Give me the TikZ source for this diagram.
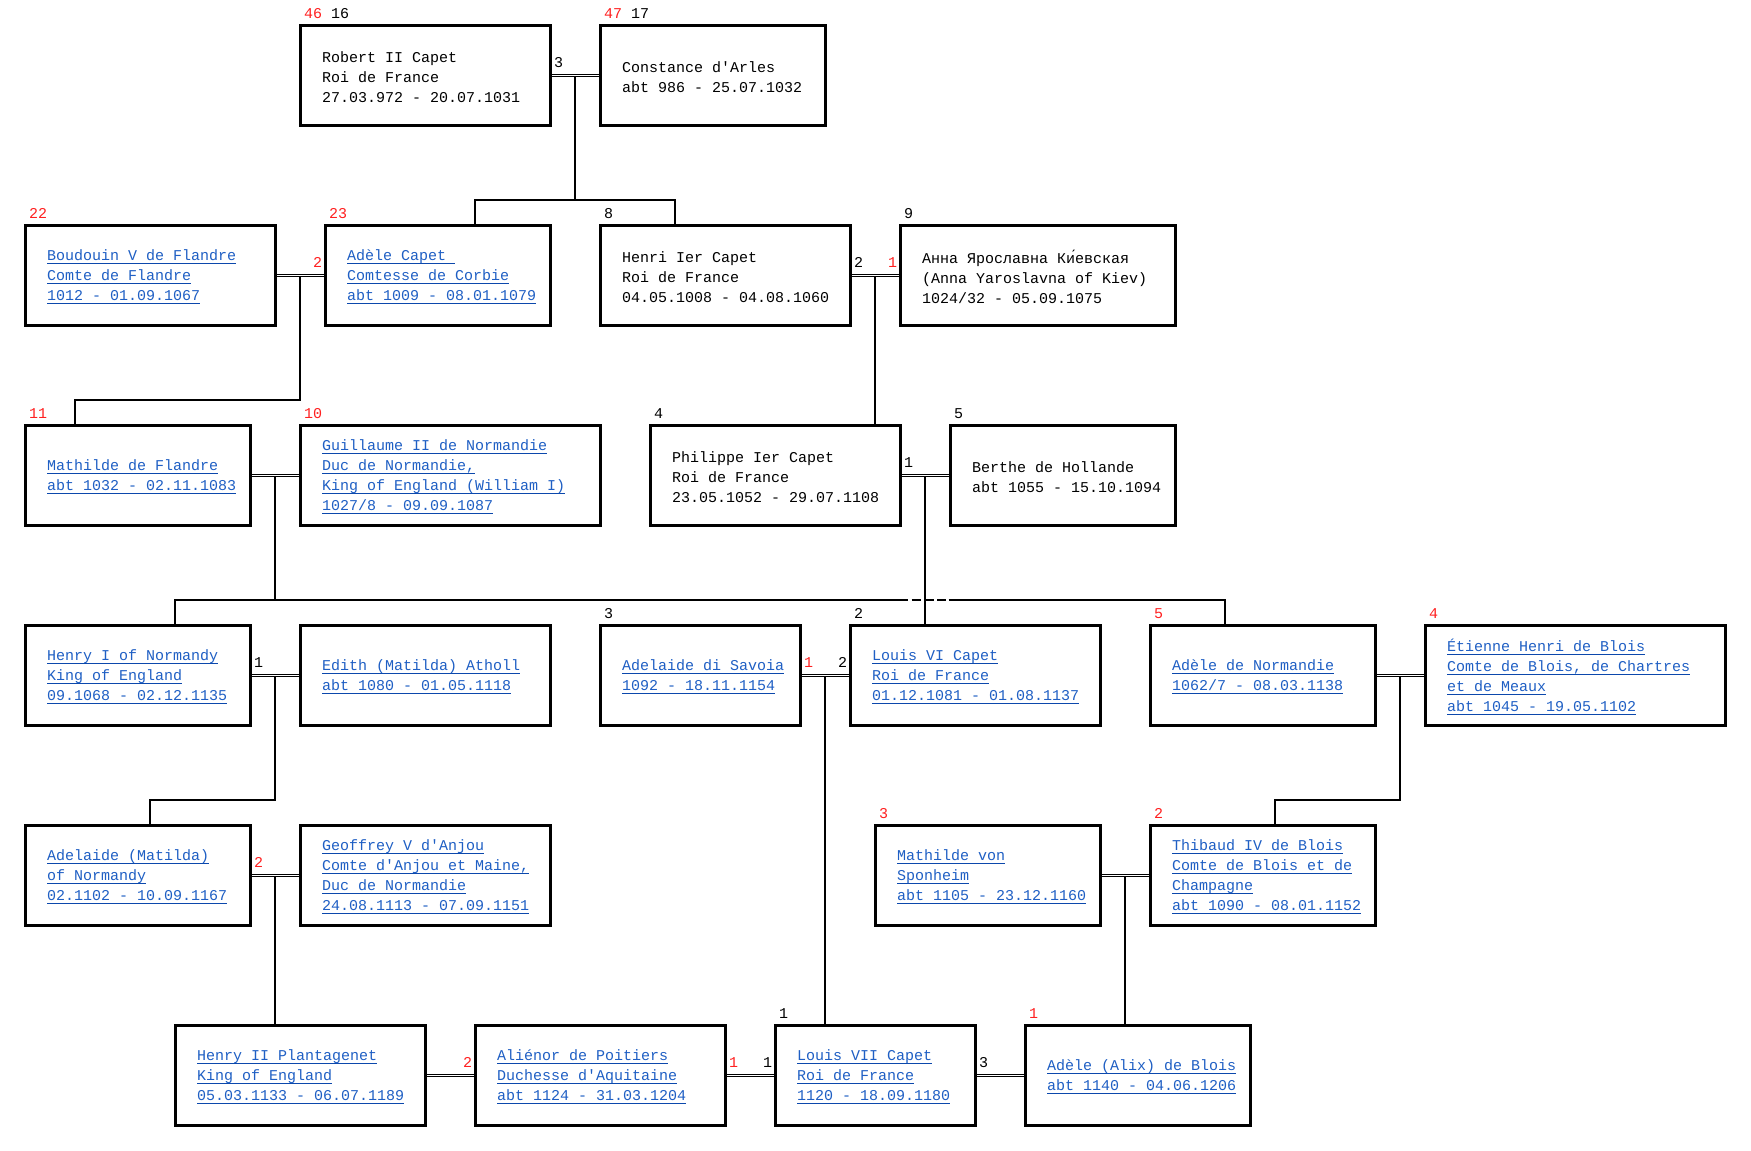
\documentclass[tikz,border=0pt]{standalone}
\usepackage{fontspec}
\setmonofont{Liberation Mono}
\usetikzlibrary{calc}
\definecolor{lkblue}{RGB}{31,95,196}
\definecolor{lkline}{RGB}{12,72,172}
\definecolor{numred}{RGB}{255,32,32}
\newsavebox{\lkbox}
\newcommand\lk[1]{\sbox{\lkbox}{#1}\rlap{\color{lkline}\rule[-3.2pt]{\wd\lkbox}{1.2pt}}\usebox{\lkbox}}
\pgfdeclarelayer{back}
\pgfdeclarelayer{bg}
\pgfsetlayers{back,bg,main}
\tikzset{
  pbox/.style={draw=black, line width=3pt, anchor=north west, minimum height=100pt, inner sep=0pt, outer sep=0pt},
  ptext/.style={anchor=west, xshift=22pt, yshift=-2pt, align=left, inner sep=0pt, outer sep=0pt, font=\ttfamily\fontsize{15}{20}\selectfont, text=black},
  plink/.style={ptext, text=lkblue},
  toplab/.style={anchor=base west, inner sep=0pt, outer sep=0pt, xshift=4pt, yshift=7pt, font=\ttfamily\fontsize{15}{20}\selectfont},
  mlabL/.style={anchor=base west, inner sep=0pt, outer sep=0pt, xshift=4pt, yshift=8pt, font=\ttfamily\fontsize{15}{20}\selectfont},
  mlabR/.style={anchor=base east, inner sep=0pt, outer sep=0pt, xshift=-3pt, yshift=8pt, font=\ttfamily\fontsize{15}{20}\selectfont},
  desc/.style={draw=black, line width=2pt},
  marr/.style={draw=black, line width=1pt, double=white, double distance=1pt},
}
\begin{document}
\begin{tikzpicture}[x=1pt,y=-1pt]
\useasboundingbox (0,0) rectangle (1751,1151);
\begin{pgfonlayer}{back}
\fill[white] (0,0) rectangle (1751,1151);
\end{pgfonlayer}

% ---------- boxes ----------
% row 1
\node[pbox, minimum width=250pt] (robert) at (300,25) {};
\node[pbox, minimum width=225pt] (constance) at (600,25) {};
% row 2
\node[pbox, minimum width=250pt] (boudouin) at (25,225) {};
\node[pbox, minimum width=225pt] (adeleC) at (325,225) {};
\node[pbox, minimum width=250pt] (henri) at (600,225) {};
\node[pbox, minimum width=275pt] (anna) at (900,225) {};
% row 3
\node[pbox, minimum width=225pt] (mathilde) at (25,425) {};
\node[pbox, minimum width=300pt] (guillaume) at (300,425) {};
\node[pbox, minimum width=250pt] (philippe) at (650,425) {};
\node[pbox, minimum width=225pt] (berthe) at (950,425) {};
% row 4
\node[pbox, minimum width=225pt] (henryI) at (25,625) {};
\node[pbox, minimum width=250pt] (edith) at (300,625) {};
\node[pbox, minimum width=200pt] (savoia) at (600,625) {};
\node[pbox, minimum width=250pt] (louisVI) at (850,625) {};
\node[pbox, minimum width=225pt] (adeleN) at (1150,625) {};
\node[pbox, minimum width=300pt] (etienne) at (1425,625) {};
% row 5
\node[pbox, minimum width=225pt] (adelaideM) at (25,825) {};
\node[pbox, minimum width=250pt] (geoffrey) at (300,825) {};
\node[pbox, minimum width=225pt] (sponheim) at (875,825) {};
\node[pbox, minimum width=225pt] (thibaud) at (1150,825) {};
% row 6
\node[pbox, minimum width=250pt] (henryII) at (175,1025) {};
\node[pbox, minimum width=250pt] (alienor) at (475,1025) {};
\node[pbox, minimum width=200pt] (louisVII) at (775,1025) {};
\node[pbox, minimum width=225pt] (alix) at (1025,1025) {};

% ---------- texts ----------
\node[ptext] (robertT) at (robert.west) {Robert II Capet\\Roi de France\\27.03.972 - 20.07.1031};
\node[ptext] (constanceT) at (constance.west) {Constance d'Arles\\abt 986 - 25.07.1032};
\node[plink] (boudouinT) at (boudouin.west) {\lk{Boudouin V de Flandre}\\\lk{Comte de Flandre}\\\lk{1012 - 01.09.1067}};
\node[plink] (adeleCT) at (adeleC.west) {\lk{Adèle Capet\ }\\\lk{Comtesse de Corbie}\\\lk{abt 1009 - 08.01.1079}};
\node[ptext] (henriT) at (henri.west) {Henri Ier Capet\\Roi de France\\04.05.1008 - 04.08.1060};
\node[ptext] (annaT) at (anna.west) {Анна Ярославна Ки́евская\\(Anna Yaroslavna of Kiev)\\1024/32 - 05.09.1075};
\node[plink] (mathildeT) at (mathilde.west) {\lk{Mathilde de Flandre}\\\lk{abt 1032 - 02.11.1083}};
\node[plink] (guillaumeT) at (guillaume.west) {\lk{Guillaume II de Normandie}\\\lk{Duc de Normandie,}\\\lk{King of England (William I)}\\\lk{1027/8 - 09.09.1087}};
\node[ptext] (philippeT) at (philippe.west) {Philippe Ier Capet\\Roi de France\\23.05.1052 - 29.07.1108};
\node[ptext] (bertheT) at (berthe.west) {Berthe de Hollande\\abt 1055 - 15.10.1094};
\node[plink] (henryIT) at (henryI.west) {\lk{Henry I of Normandy}\\\lk{King of England}\\\lk{09.1068 - 02.12.1135}};
\node[plink] (edithT) at (edith.west) {\lk{Edith (Matilda) Atholl}\\\lk{abt 1080 - 01.05.1118}};
\node[plink] (savoiaT) at (savoia.west) {\lk{Adelaide di Savoia}\\\lk{1092 - 18.11.1154}};
\node[plink] (louisVIT) at (louisVI.west) {\lk{Louis VI Capet}\\\lk{Roi de France}\\\lk{01.12.1081 - 01.08.1137}};
\node[plink] (adeleNT) at (adeleN.west) {\lk{Adèle de Normandie}\\\lk{1062/7 - 08.03.1138}};
\node[plink] (etienneT) at (etienne.west) {\lk{Étienne Henri de Blois}\\\lk{Comte de Blois, de Chartres}\\\lk{et de Meaux}\\\lk{abt 1045 - 19.05.1102}};
\node[plink] (adelaideMT) at (adelaideM.west) {\lk{Adelaide (Matilda)}\\\lk{of Normandy}\\\lk{02.1102 - 10.09.1167}};
\node[plink] (geoffreyT) at (geoffrey.west) {\lk{Geoffrey V d'Anjou}\\\lk{Comte d'Anjou et Maine,}\\\lk{Duc de Normandie}\\\lk{24.08.1113 - 07.09.1151}};
\node[plink] (sponheimT) at (sponheim.west) {\lk{Mathilde von}\\\lk{Sponheim}\\\lk{abt 1105 - 23.12.1160}};
\node[plink] (thibaudT) at (thibaud.west) {\lk{Thibaud IV de Blois}\\\lk{Comte de Blois et de}\\\lk{Champagne}\\\lk{abt 1090 - 08.01.1152}};
\node[plink] (henryIIT) at (henryII.west) {\lk{Henry II Plantagenet}\\\lk{King of England}\\\lk{05.03.1133 - 06.07.1189}};
\node[plink] (alienorT) at (alienor.west) {\lk{Aliénor de Poitiers}\\\lk{Duchesse d'Aquitaine}\\\lk{abt 1124 - 31.03.1204}};
\node[plink] (louisVIIT) at (louisVII.west) {\lk{Louis VII Capet}\\\lk{Roi de France}\\\lk{1120 - 18.09.1180}};
\node[plink] (alixT) at (alix.west) {\lk{Adèle (Alix) de Blois}\\\lk{abt 1140 - 04.06.1206}};

% ---------- numbers above boxes ----------
\node[toplab] (nRobert) at (robert.north west) {\textcolor{numred}{46} 16};
\node[toplab] (nConstance) at (constance.north west) {\textcolor{numred}{47} 17};
\node[toplab, text=numred] (nBoudouin) at (boudouin.north west) {22};
\node[toplab, text=numred] (nAdeleC) at (adeleC.north west) {23};
\node[toplab] (nHenri) at (henri.north west) {8};
\node[toplab] (nAnna) at (anna.north west) {9};
\node[toplab, text=numred] (nMathilde) at (mathilde.north west) {11};
\node[toplab, text=numred] (nGuillaume) at (guillaume.north west) {10};
\node[toplab] (nPhilippe) at (philippe.north west) {4};
\node[toplab] (nBerthe) at (berthe.north west) {5};
\node[toplab] (nSavoia) at (savoia.north west) {3};
\node[toplab] (nLouisVI) at (louisVI.north west) {2};
\node[toplab, text=numred] (nAdeleN) at (adeleN.north west) {5};
\node[toplab, text=numred] (nEtienne) at (etienne.north west) {4};
\node[toplab, text=numred] (nSponheim) at (sponheim.north west) {3};
\node[toplab, text=numred] (nThibaud) at (thibaud.north west) {2};
\node[toplab] (nLouisVII) at (louisVII.north west) {1};
\node[toplab, text=numred] (nAlix) at (alix.north west) {1};

% ---------- marriage numbers ----------
\node[mlabL] (lRC) at (robert.east) {3};
\node[mlabR, text=numred] (lBA) at (adeleC.west) {2};
\node[mlabL] (lHA1) at (henri.east) {2};
\node[mlabR, text=numred] (lHA2) at (anna.west) {1};
\node[mlabL] (lPB) at (philippe.east) {1};
\node[mlabL] (lHE) at (henryI.east) {1};
\node[mlabL, text=numred] (lSL1) at (savoia.east) {1};
\node[mlabR] (lSL2) at (louisVI.west) {2};
\node[mlabL, text=numred] (lAG) at (adelaideM.east) {2};
\node[mlabR, text=numred] (lHAl) at (alienor.west) {2};
\node[mlabL, text=numred] (lAL1) at (alienor.east) {1};
\node[mlabR] (lAL2) at (louisVII.west) {1};
\node[mlabL] (lLA) at (louisVII.east) {3};

% ---------- coordinates ----------
\coordinate (mRC) at ($(robert.east)!0.5!(constance.west)$);
\coordinate (jRC) at (575,200);
\coordinate (aAdeleC) at (475,225);
\coordinate (aHenri) at (675,225);
\coordinate (mBA) at ($(boudouin.east)!0.5!(adeleC.west)$);
\coordinate (jBA) at (300,400);
\coordinate (aMathilde) at (75,425);
\coordinate (mHA) at ($(henri.east)!0.5!(anna.west)$);
\coordinate (aPhilippe) at (875,425);
\coordinate (mMG) at ($(mathilde.east)!0.5!(guillaume.west)$);
\coordinate (jMG) at (275,600);
\coordinate (aHenryI) at (175,625);
\coordinate (aAdeleN) at (1225,625);
\coordinate (hopL) at (908.3,600);
\coordinate (hopR) at (948.5,600);
\coordinate (mPB) at ($(philippe.east)!0.5!(berthe.west)$);
\coordinate (aLouisVI) at (925,625);
\coordinate (mHE) at ($(henryI.east)!0.5!(edith.west)$);
\coordinate (jHE) at (275,800);
\coordinate (aAdelaideM) at (150,825);
\coordinate (mSL) at ($(savoia.east)!0.5!(louisVI.west)$);
\coordinate (aLouisVII) at (825,1025);
\coordinate (mNE) at ($(adeleN.east)!0.5!(etienne.west)$);
\coordinate (jNE) at (1400,800);
\coordinate (aThibaud) at (1275,825);
\coordinate (mAG) at ($(adelaideM.east)!0.5!(geoffrey.west)$);
\coordinate (aHenryII) at (275,1025);
\coordinate (mST) at ($(sponheim.east)!0.5!(thibaud.west)$);
\coordinate (aAlix) at (1125,1025);

% ---------- connectors ----------
\begin{pgfonlayer}{bg}
\draw[desc] (mRC) -- (jRC);
\draw[desc] (aAdeleC) |- (jRC) -| (aHenri);
\draw[desc] (mBA) -- (jBA) -| (aMathilde);
\draw[desc] (mHA) -- (aPhilippe);
\draw[desc] (mMG) -- (jMG);
\draw[desc] (aHenryI) |- (hopL);
\draw[desc, dash pattern=on 9.3pt off 3.4pt, dash phase=9.3pt] (hopL) -- (hopR);
\draw[desc] (hopR) -| (aAdeleN);
\draw[desc] (mPB) -- (aLouisVI);
\draw[desc] (mHE) -- (jHE) -| (aAdelaideM);
\draw[desc] (mSL) -- (aLouisVII);
\draw[desc] (mNE) -- (jNE) -| (aThibaud);
\draw[desc] (mAG) -- (aHenryII);
\draw[desc] (mST) -- (aAlix);

\draw[marr] (robert.east) -- (constance.west);
\draw[marr] (boudouin.east) -- (adeleC.west);
\draw[marr] (henri.east) -- (anna.west);
\draw[marr] (mathilde.east) -- (guillaume.west);
\draw[marr] (philippe.east) -- (berthe.west);
\draw[marr] (henryI.east) -- (edith.west);
\draw[marr] (savoia.east) -- (louisVI.west);
\draw[marr] (adeleN.east) -- (etienne.west);
\draw[marr] (adelaideM.east) -- (geoffrey.west);
\draw[marr] (sponheim.east) -- (thibaud.west);
\draw[marr] (henryII.east) -- (alienor.west);
\draw[marr] (alienor.east) -- (louisVII.west);
\draw[marr] (louisVII.east) -- (alix.west);
\end{pgfonlayer}
\end{tikzpicture}
\end{document}
